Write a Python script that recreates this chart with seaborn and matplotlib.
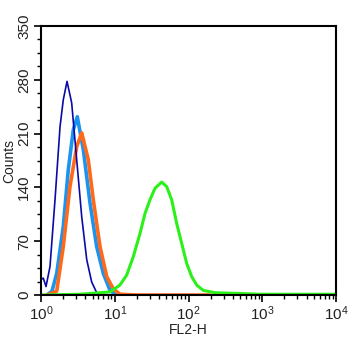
"""
Flow cytometry overlay histogram (FL2-H) drawn with seaborn
"""
import matplotlib
matplotlib.use('Agg')
import matplotlib.pyplot as plt
import matplotlib.ticker as mticker
import numpy as np
import pandas as pd
import seaborn as sns

# log10 of FL2-H channel position, and counts
navy_log = [0.0, 0.031, 0.068, 0.122, 0.19, 0.258, 0.302, 0.353, 0.416, 0.484,
            0.552, 0.62, 0.687, 0.755, 0.83]
navy_counts = [20, 22, 11, 37, 124, 219, 254, 278, 250, 176, 102, 46, 17, 3, 0]

blue_log = [0.081, 0.149, 0.213, 0.302, 0.37, 0.438, 0.492, 0.574, 0.664, 0.755,
            0.845, 0.936, 1.017]
blue_counts = [0, 5, 28, 89, 163, 215, 232, 189, 120, 63, 28, 6, 0]

orange_log = [0.081, 0.213, 0.302, 0.393, 0.484, 0.552, 0.641, 0.709, 0.8, 0.891,
              0.98, 1.071, 1.3, 2.29]
orange_counts = [0, 5, 63, 141, 193, 211, 176, 124, 63, 24, 8, 1, 0, 0]

green_log = [0.0, 0.53, 0.8, 0.936, 1.071, 1.162, 1.252, 1.342, 1.41, 1.478, 1.546,
             1.637, 1.704, 1.772, 1.84, 1.908, 1.976, 2.043, 2.111, 2.2, 2.36, 2.7,
             2.97, 4.0]
green_counts = [0, 1, 3, 4, 13, 26, 50, 80, 106, 124, 139, 147, 141, 124, 93, 67, 41,
                24, 13, 6, 3, 2, 1, 1]

y_ticks = [0, 70, 140, 210, 280, 350]

sns.set_style('white')
plt.rcParams['font.family'] = ['Liberation Sans', 'DejaVu Sans']

fig = plt.figure(figsize=(3.55, 3.52), dpi=100)
ax = fig.add_axes([0.1155, 0.1619, 0.831, 0.7641])

series = [
    (blue_log, blue_counts, '#1a94f0', 2.6),
    (orange_log, orange_counts, '#ff6a1a', 2.6),
    (navy_log, navy_counts, '#0a0aa8', 1.2),
    (green_log, green_counts, '#2cf01a', 2.2),
]
for logs, counts, color, lw in series:
    df = pd.DataFrame({'FL2-H': 10 ** np.array(logs), 'Counts': counts})
    sns.lineplot(data=df, x='FL2-H', y='Counts', color=color, linewidth=lw,
                 ax=ax, sort=False, estimator=None)

ax.set_xscale('log')
ax.set_xlim(1, 1e4)
ax.set_ylim(0, 350)
ax.set_yticks(y_ticks)
ax.yaxis.set_minor_locator(mticker.MultipleLocator(17.5))
ax.xaxis.set_major_locator(mticker.LogLocator(base=10))
ax.xaxis.set_minor_locator(mticker.LogLocator(base=10, subs=np.arange(2, 10)))
ax.xaxis.set_minor_formatter(mticker.NullFormatter())

ax.tick_params(axis='both', which='major', direction='out', length=5, width=1.2,
               labelsize=11, bottom=True, left=True, top=False, right=False,
               color='black', pad=2, labelcolor='#222222')
ax.tick_params(axis='both', which='minor', direction='out', length=3, width=1,
               bottom=True, left=True, top=False, right=False, color='black')
for label in ax.get_yticklabels():
    label.set_rotation(90)
    label.set_va('center')

for spine in ax.spines.values():
    spine.set_visible(True)
    spine.set_color('black')
    spine.set_linewidth(1.5)

ax.set_xlabel('FL2-H', fontsize=10, labelpad=0, color='#222222')
ax.set_ylabel('Counts', fontsize=10, labelpad=1, color='#222222')

fig.savefig('out.png', dpi=100)
